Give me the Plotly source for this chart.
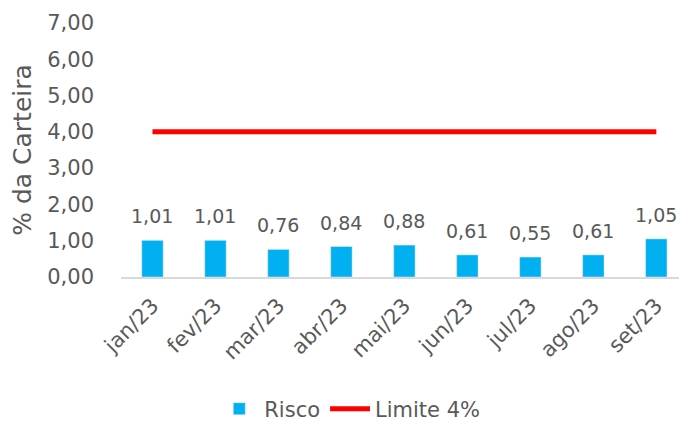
import plotly.graph_objects as go

categories = ["jan/23", "fev/23", "mar/23", "abr/23", "mai/23", "jun/23", "jul/23", "ago/23", "set/23"]
risco = [1.01, 1.01, 0.76, 0.84, 0.88, 0.61, 0.55, 0.61, 1.05]
limite = [4, 4, 4, 4, 4, 4, 4, 4, 4]

font_family = "DejaVu Sans"
grey = "#595959"

fig = go.Figure()
fig.add_trace(go.Bar(
    x=categories, y=risco, name="Risco",
    marker=dict(color="#00B0F0"),
    cliponaxis=False,
))
fig.add_trace(go.Scatter(
    x=categories, y=limite, name="Limite 4%", mode="lines",
    line=dict(color="#FF0000", width=5),
))

for c, v in zip(categories, risco):
    fig.add_annotation(
        x=c, y=v, text=f"{v:.2f}".replace(".", ","), showarrow=False,
        yanchor="bottom", yshift=11,
        font=dict(size=19, color=grey, family=font_family),
    )

fig.update_layout(
    width=679, height=421,
    margin=dict(l=121, r=0, t=23, b=144, autoexpand=False),
    paper_bgcolor="white", plot_bgcolor="white",
    separators=",.",
    bargap=0.66,
    font=dict(family=font_family, size=21, color=grey),
    showlegend=True,
    legend=dict(orientation="h", x=0.41, xanchor="center", y=-0.52, yanchor="middle",
                font=dict(size=21, color=grey), itemwidth=40),
)
fig.update_xaxes(
    range=[-0.5, 8.36], showgrid=False, showline=True, linecolor="#D9D9D9", linewidth=2,
    tickangle=-45, ticks="", ticklabelstandoff=6, tickfont=dict(size=21, color=grey), automargin=False,
)
fig.update_yaxes(
    range=[0, 7], dtick=1, tickformat=".2f", showgrid=False, zeroline=False, showline=False,
    ticks="", ticklabelstandoff=26, tickfont=dict(size=21, color=grey), automargin=False,
    title=dict(text="% da Carteira", font=dict(size=25, color=grey), standoff=8),
)

post = ("document.body.style.margin='0';"
        "document.body.style.overflow='hidden';"
        "document.documentElement.style.overflow='hidden';")
fig.write_html("out.html", post_script=post, config={"displayModeBar": False})
